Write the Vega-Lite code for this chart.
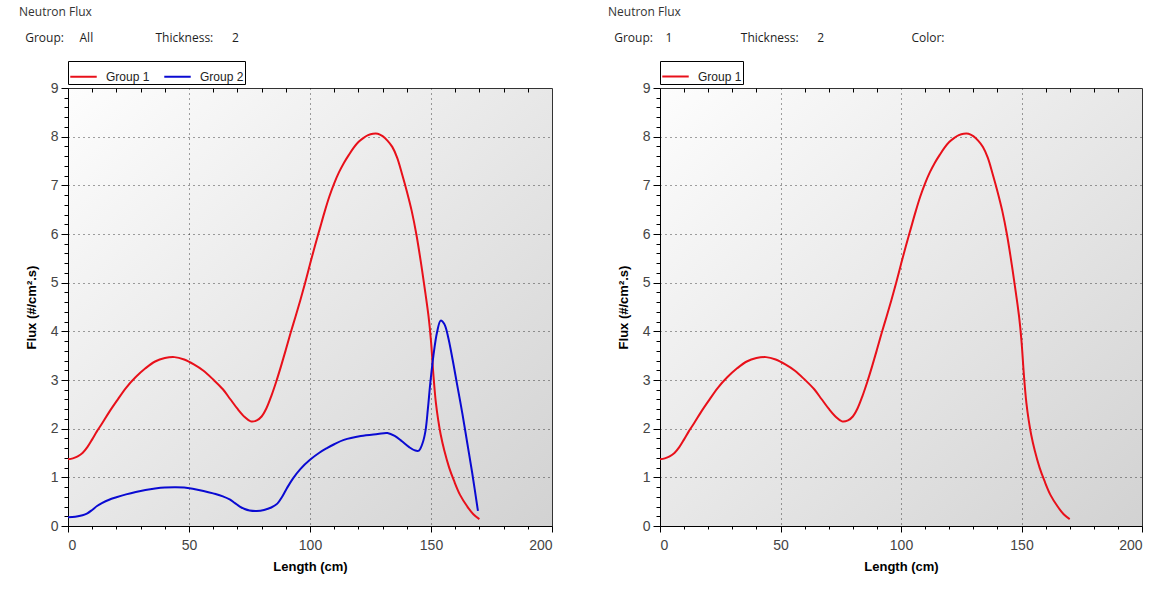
{
  "$schema": "https://vega.github.io/schema/vega-lite/v6.json",
  "background": "white",
  "padding": {"left": 18, "top": 5, "right": 5, "bottom": 5},
  "spacing": 54,
  "datasets": {
    "flux": [
      {"group": "Group 1", "x": 0, "y": 1.37}, {"group": "Group 1", "x": 2, "y": 1.39}, {"group": "Group 1", "x": 4, "y": 1.43},
      {"group": "Group 1", "x": 6, "y": 1.5}, {"group": "Group 1", "x": 8, "y": 1.62}, {"group": "Group 1", "x": 10, "y": 1.78},
      {"group": "Group 1", "x": 12, "y": 1.95}, {"group": "Group 1", "x": 14, "y": 2.1}, {"group": "Group 1", "x": 17, "y": 2.34},
      {"group": "Group 1", "x": 20, "y": 2.56}, {"group": "Group 1", "x": 24, "y": 2.84}, {"group": "Group 1", "x": 28, "y": 3.06},
      {"group": "Group 1", "x": 32, "y": 3.24}, {"group": "Group 1", "x": 36, "y": 3.38}, {"group": "Group 1", "x": 40, "y": 3.45},
      {"group": "Group 1", "x": 44, "y": 3.47}, {"group": "Group 1", "x": 48, "y": 3.42}, {"group": "Group 1", "x": 52, "y": 3.32},
      {"group": "Group 1", "x": 56, "y": 3.19}, {"group": "Group 1", "x": 60, "y": 3.01}, {"group": "Group 1", "x": 64, "y": 2.81},
      {"group": "Group 1", "x": 67, "y": 2.61}, {"group": "Group 1", "x": 70, "y": 2.41}, {"group": "Group 1", "x": 73, "y": 2.24},
      {"group": "Group 1", "x": 75.5, "y": 2.15}, {"group": "Group 1", "x": 78, "y": 2.17}, {"group": "Group 1", "x": 80, "y": 2.25},
      {"group": "Group 1", "x": 82, "y": 2.42}, {"group": "Group 1", "x": 84, "y": 2.67}, {"group": "Group 1", "x": 86, "y": 2.96},
      {"group": "Group 1", "x": 88, "y": 3.28}, {"group": "Group 1", "x": 90, "y": 3.62}, {"group": "Group 1", "x": 92, "y": 3.97},
      {"group": "Group 1", "x": 94, "y": 4.3}, {"group": "Group 1", "x": 96, "y": 4.64}, {"group": "Group 1", "x": 98, "y": 5.0},
      {"group": "Group 1", "x": 100, "y": 5.38}, {"group": "Group 1", "x": 102, "y": 5.75}, {"group": "Group 1", "x": 104, "y": 6.1},
      {"group": "Group 1", "x": 106, "y": 6.45}, {"group": "Group 1", "x": 108, "y": 6.77}, {"group": "Group 1", "x": 110, "y": 7.04},
      {"group": "Group 1", "x": 112, "y": 7.27}, {"group": "Group 1", "x": 114, "y": 7.46}, {"group": "Group 1", "x": 116, "y": 7.62},
      {"group": "Group 1", "x": 118, "y": 7.77}, {"group": "Group 1", "x": 120, "y": 7.89}, {"group": "Group 1", "x": 122, "y": 7.97},
      {"group": "Group 1", "x": 124, "y": 8.03}, {"group": "Group 1", "x": 126, "y": 8.06}, {"group": "Group 1", "x": 128, "y": 8.06},
      {"group": "Group 1", "x": 130, "y": 8.01}, {"group": "Group 1", "x": 132, "y": 7.92}, {"group": "Group 1", "x": 134, "y": 7.79},
      {"group": "Group 1", "x": 136, "y": 7.57}, {"group": "Group 1", "x": 138, "y": 7.24}, {"group": "Group 1", "x": 140, "y": 6.88},
      {"group": "Group 1", "x": 142, "y": 6.48}, {"group": "Group 1", "x": 144, "y": 5.98}, {"group": "Group 1", "x": 146, "y": 5.36},
      {"group": "Group 1", "x": 147.7, "y": 4.78}, {"group": "Group 1", "x": 149, "y": 4.3}, {"group": "Group 1", "x": 150, "y": 3.8},
      {"group": "Group 1", "x": 151, "y": 3.1}, {"group": "Group 1", "x": 152, "y": 2.54}, {"group": "Group 1", "x": 153, "y": 2.17},
      {"group": "Group 1", "x": 154, "y": 1.88}, {"group": "Group 1", "x": 155.5, "y": 1.55}, {"group": "Group 1", "x": 157.5, "y": 1.2},
      {"group": "Group 1", "x": 159.5, "y": 0.93}, {"group": "Group 1", "x": 162, "y": 0.64}, {"group": "Group 1", "x": 165, "y": 0.4},
      {"group": "Group 1", "x": 167.5, "y": 0.24}, {"group": "Group 1", "x": 170, "y": 0.14},
      {"group": "Group 2", "x": 0, "y": 0.18}, {"group": "Group 2", "x": 3, "y": 0.19}, {"group": "Group 2", "x": 6, "y": 0.22},
      {"group": "Group 2", "x": 8, "y": 0.26}, {"group": "Group 2", "x": 10, "y": 0.33}, {"group": "Group 2", "x": 12, "y": 0.41},
      {"group": "Group 2", "x": 14, "y": 0.47}, {"group": "Group 2", "x": 17, "y": 0.54}, {"group": "Group 2", "x": 20, "y": 0.59},
      {"group": "Group 2", "x": 24, "y": 0.65}, {"group": "Group 2", "x": 28, "y": 0.7}, {"group": "Group 2", "x": 32, "y": 0.74},
      {"group": "Group 2", "x": 36, "y": 0.77}, {"group": "Group 2", "x": 40, "y": 0.79}, {"group": "Group 2", "x": 44, "y": 0.795},
      {"group": "Group 2", "x": 48, "y": 0.79}, {"group": "Group 2", "x": 52, "y": 0.76}, {"group": "Group 2", "x": 56, "y": 0.72},
      {"group": "Group 2", "x": 60, "y": 0.67}, {"group": "Group 2", "x": 64, "y": 0.61}, {"group": "Group 2", "x": 67, "y": 0.54},
      {"group": "Group 2", "x": 69, "y": 0.47}, {"group": "Group 2", "x": 71, "y": 0.4}, {"group": "Group 2", "x": 73, "y": 0.35},
      {"group": "Group 2", "x": 75, "y": 0.32}, {"group": "Group 2", "x": 78, "y": 0.31}, {"group": "Group 2", "x": 81, "y": 0.33},
      {"group": "Group 2", "x": 84, "y": 0.38}, {"group": "Group 2", "x": 86.5, "y": 0.46}, {"group": "Group 2", "x": 88.5, "y": 0.6},
      {"group": "Group 2", "x": 90.5, "y": 0.78}, {"group": "Group 2", "x": 93, "y": 0.98}, {"group": "Group 2", "x": 96, "y": 1.17},
      {"group": "Group 2", "x": 100, "y": 1.36}, {"group": "Group 2", "x": 104, "y": 1.51}, {"group": "Group 2", "x": 107, "y": 1.6},
      {"group": "Group 2", "x": 110, "y": 1.68}, {"group": "Group 2", "x": 114, "y": 1.77}, {"group": "Group 2", "x": 121, "y": 1.85},
      {"group": "Group 2", "x": 128, "y": 1.89}, {"group": "Group 2", "x": 132, "y": 1.91}, {"group": "Group 2", "x": 135, "y": 1.85},
      {"group": "Group 2", "x": 138, "y": 1.74}, {"group": "Group 2", "x": 141, "y": 1.62}, {"group": "Group 2", "x": 143.5, "y": 1.55},
      {"group": "Group 2", "x": 145, "y": 1.55}, {"group": "Group 2", "x": 146.5, "y": 1.7}, {"group": "Group 2", "x": 147.7, "y": 1.95},
      {"group": "Group 2", "x": 148.7, "y": 2.4}, {"group": "Group 2", "x": 149.7, "y": 2.93}, {"group": "Group 2", "x": 151, "y": 3.5},
      {"group": "Group 2", "x": 152.5, "y": 3.98}, {"group": "Group 2", "x": 154, "y": 4.22}, {"group": "Group 2", "x": 155.5, "y": 4.15},
      {"group": "Group 2", "x": 157, "y": 3.9}, {"group": "Group 2", "x": 159, "y": 3.4}, {"group": "Group 2", "x": 160.7, "y": 2.93},
      {"group": "Group 2", "x": 163, "y": 2.3}, {"group": "Group 2", "x": 165, "y": 1.7}, {"group": "Group 2", "x": 167, "y": 1.1},
      {"group": "Group 2", "x": 169.4, "y": 0.31}
    ]
  },
  "config": {
    "font": "Liberation Sans",
    "title": {"font": "Open Sans", "fontSize": 12, "fontWeight": "normal", "color": "#333333", "subtitleFont": "Open Sans", "subtitleFontSize": 12, "subtitleColor": "#1e1e1e", "subtitlePadding": 14, "anchor": "start", "frame": "group", "offset": 16},
    "axis": {
      "domainColor": "#000000", "tickColor": "#000000", "labelColor": "#444444", "labelFont": "Liberation Sans", "labelFontSize": 14,
      "titleFont": "Liberation Sans", "titleFontSize": 13, "titleFontWeight": "bold", "titleColor": "#000000",
      "gridColor": "#000000", "gridDash": [1, 4], "gridOpacity": 0.85
    },
    "legend": {
      "orient": "top", "direction": "horizontal", "title": null, "strokeColor": "#000000", "fillColor": "#ffffff",
      "padding": 1, "offset": 3, "symbolType": "stroke", "symbolStrokeWidth": 2, "symbolSize": 700,
      "labelFont": "Liberation Sans", "labelFontSize": 12, "labelColor": "#222222", "columnPadding": 10, "labelOffset": 8
    },
    "view": {
      "stroke": "#333333",
      "fill": {"gradient": "linear", "x1": 0, "y1": 0, "x2": 1, "y2": 1, "stops": [{"offset": 0, "color": "#fdfdfd"}, {"offset": 1, "color": "#d2d2d2"}]}
    }
  },
  "resolve": {"scale": {"color": "independent"}, "legend": {"color": "independent"}},
  "hconcat": [
    {
      "width": 484,
      "height": 438,
      "title": {"text": "Neutron Flux", "subtitle": "\u200b\u00a0\u00a0Group:\u00a0\u00a0\u00a0\u00a0\u00a0All\u00a0\u00a0\u00a0\u00a0\u00a0\u00a0\u00a0\u00a0\u00a0\u00a0\u00a0\u00a0\u00a0\u00a0\u00a0\u00a0\u00a0\u00a0\u00a0\u00a0Thickness:\u00a0\u00a0\u00a0\u00a0\u00a0\u00a02", "dx": -49},
      "data": {"name": "flux"},
      "layer": [
        {
          "mark": {"type": "line", "strokeWidth": 2, "interpolate": "catmull-rom"},
          "encoding": {
            "x": {"field": "x", "type": "quantitative", "scale": {"domain": [0, 200], "nice": false},
              "axis": {"title": "Length (cm)", "tickCount": 100, "values": [0,10,20,30,40,50,60,70,80,90,100,110,120,130,140,150,160,170,180,190,200],
                "labelExpr": "datum.value % 50 == 0 ? datum.label : ''", "labelPadding": 6, "titlePadding": 8,
                "tickSize": {"condition": {"test": "datum.value % 50 == 0", "value": 6}, "value": 3},
                "gridOpacity": {"condition": {"test": "datum.value % 50 == 0 && datum.value > 0 && datum.value < 200", "value": 0.85}, "value": 0}}},
            "y": {"field": "y", "type": "quantitative", "scale": {"domain": [0, 9], "nice": false},
              "axis": {"title": "Flux (#/cm².s)", "tickCount": 100, "tickMinStep": 0.1,
                "values": [0,0.2,0.4,0.6,0.8,1,1.2,1.4,1.6,1.8,2,2.2,2.4,2.6,2.8,3,3.2,3.4,3.6,3.8,4,4.2,4.4,4.6,4.8,5,5.2,5.4,5.6,5.8,6,6.2,6.4,6.6,6.8,7,7.2,7.4,7.6,7.8,8,8.2,8.4,8.6,8.8,9],
                "labelExpr": "abs(datum.value - round(datum.value)) < 0.001 ? format(datum.value, 'd') : ''", "labelPadding": 3, "titlePadding": 12,
                "tickSize": {"condition": {"test": "abs(datum.value - round(datum.value)) < 0.001", "value": 7}, "value": 4},
                "gridOpacity": {"condition": {"test": "abs(datum.value - round(datum.value)) < 0.001 && datum.value > 0 && datum.value < 9", "value": 0.85}, "value": 0}}},
            "color": {"field": "group", "type": "nominal", "scale": {"domain": ["Group 1", "Group 2"], "range": ["#e8101a", "#0a0ad2"]}}
          }
        },
        {
          "mark": {"type": "line", "opacity": 0},
          "encoding": {
            "x": {"field": "x", "type": "quantitative", "scale": {"domain": [0, 200], "nice": false},
              "axis": {"orient": "top", "title": null, "labels": false, "domain": false, "grid": false, "tickSize": -4, "tickCount": 100,
                "values": [10,20,30,40,60,70,80,90,110,120,130,140,160,170,180,190]}},
            "y": {"field": "y", "type": "quantitative", "axis": null},
            "detail": {"field": "group"}
          }
        }
      ],
      "resolve": {"axis": {"x": "independent", "y": "independent"}}
    },
    {
      "width": 482,
      "height": 438,
      "title": {"text": "Neutron Flux", "subtitle": "\u200b\u00a0\u00a0Group:\u00a0\u00a0\u00a0\u00a01\u00a0\u00a0\u00a0\u00a0\u00a0\u00a0\u00a0\u00a0\u00a0\u00a0\u00a0\u00a0\u00a0\u00a0\u00a0\u00a0\u00a0\u00a0\u00a0\u00a0\u00a0\u00a0Thickness:\u00a0\u00a0\u00a0\u00a0\u00a0\u00a02\u00a0\u00a0\u00a0\u00a0\u00a0\u00a0\u00a0\u00a0\u00a0\u00a0\u00a0\u00a0\u00a0\u00a0\u00a0\u00a0\u00a0\u00a0\u00a0\u00a0\u00a0\u00a0\u00a0\u00a0\u00a0\u00a0\u00a0\u00a0Color:", "dx": -52},
      "data": {"name": "flux"},
      "transform": [{"filter": "datum.group == 'Group 1'"}],
      "layer": [
        {
          "mark": {"type": "line", "strokeWidth": 2, "interpolate": "catmull-rom"},
          "encoding": {
            "x": {"field": "x", "type": "quantitative", "scale": {"domain": [0, 200], "nice": false},
              "axis": {"title": "Length (cm)", "tickCount": 100, "values": [0,10,20,30,40,50,60,70,80,90,100,110,120,130,140,150,160,170,180,190,200],
                "labelExpr": "datum.value % 50 == 0 ? datum.label : ''", "labelPadding": 6, "titlePadding": 8,
                "tickSize": {"condition": {"test": "datum.value % 50 == 0", "value": 6}, "value": 3},
                "gridOpacity": {"condition": {"test": "datum.value % 50 == 0 && datum.value > 0 && datum.value < 200", "value": 0.85}, "value": 0}}},
            "y": {"field": "y", "type": "quantitative", "scale": {"domain": [0, 9], "nice": false},
              "axis": {"title": "Flux (#/cm².s)", "tickCount": 100, "tickMinStep": 0.1,
                "values": [0,0.2,0.4,0.6,0.8,1,1.2,1.4,1.6,1.8,2,2.2,2.4,2.6,2.8,3,3.2,3.4,3.6,3.8,4,4.2,4.4,4.6,4.8,5,5.2,5.4,5.6,5.8,6,6.2,6.4,6.6,6.8,7,7.2,7.4,7.6,7.8,8,8.2,8.4,8.6,8.8,9],
                "labelExpr": "abs(datum.value - round(datum.value)) < 0.001 ? format(datum.value, 'd') : ''", "labelPadding": 3, "titlePadding": 12,
                "tickSize": {"condition": {"test": "abs(datum.value - round(datum.value)) < 0.001", "value": 7}, "value": 4},
                "gridOpacity": {"condition": {"test": "abs(datum.value - round(datum.value)) < 0.001 && datum.value > 0 && datum.value < 9", "value": 0.85}, "value": 0}}},
            "color": {"field": "group", "type": "nominal", "scale": {"domain": ["Group 1"], "range": ["#e8101a"]}}
          }
        },
        {
          "mark": {"type": "line", "opacity": 0},
          "encoding": {
            "x": {"field": "x", "type": "quantitative", "scale": {"domain": [0, 200], "nice": false},
              "axis": {"orient": "top", "title": null, "labels": false, "domain": false, "grid": false, "tickSize": -4, "tickCount": 100,
                "values": [10,20,30,40,60,70,80,90,110,120,130,140,160,170,180,190]}},
            "y": {"field": "y", "type": "quantitative", "axis": null}
          }
        }
      ],
      "resolve": {"axis": {"x": "independent", "y": "independent"}}
    }
  ]
}
